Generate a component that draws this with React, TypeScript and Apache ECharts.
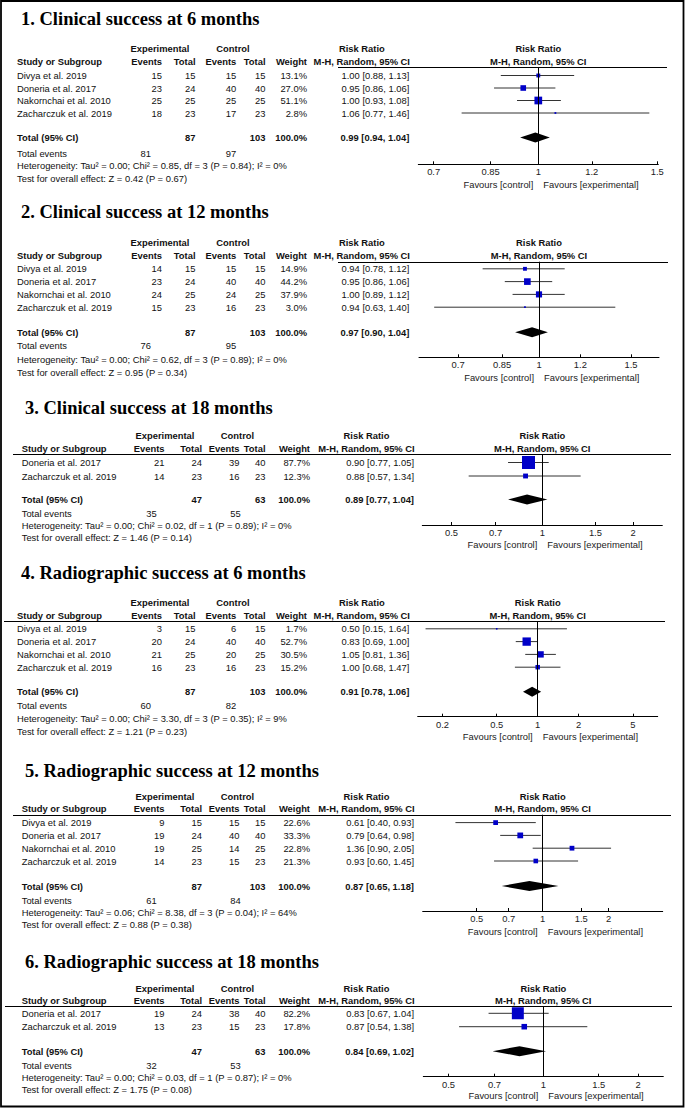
import React, { useEffect, useRef } from "react";
import * as echarts from "echarts";

// ---------------- DATA ----------------
const titles = [
  "1. Clinical success at 6 months",
  "2. Clinical success at 12 months",
  "3. Clinical success at 18 months",
  "4. Radiographic success at 6 months",
  "5. Radiographic success at 12 months",
  "6. Radiographic success at 18 months",
];

// Panel 1
const studies1 = ["Divya et al. 2019", "Doneria et al. 2017", "Nakornchai et al. 2010", "Zacharczuk et al. 2019"];
const expEvents1 = [15, 23, 25, 18];
const expTotal1 = [15, 24, 25, 23];
const ctrlEvents1 = [15, 40, 25, 17];
const ctrlTotal1 = [15, 40, 25, 23];
const weight1 = [13.1, 27.0, 51.1, 2.8];
const rr1 = [1.0, 0.95, 1.0, 1.06];
const lo1 = [0.88, 0.86, 0.93, 0.77];
const hi1 = [1.13, 1.06, 1.08, 1.46];
const pooled1 = [0.99, 0.94, 1.04];
const totals1 = [87, 103];
const totalEvents1 = [81, 97];
const het1 = "Heterogeneity: Tau² = 0.00; Chi² = 0.85, df = 3 (P = 0.84); I² = 0%";
const test1 = "Test for overall effect: Z = 0.42 (P = 0.67)";
const ticks1 = [0.7, 0.85, 1, 1.2, 1.5];
const tickLabels1 = ["0.7", "0.85", "1", "1.2", "1.5"];

// Panel 2
const studies2 = ["Divya et al. 2019", "Doneria et al. 2017", "Nakornchai et al. 2010", "Zacharczuk et al. 2019"];
const expEvents2 = [14, 23, 24, 15];
const expTotal2 = [15, 24, 25, 23];
const ctrlEvents2 = [15, 40, 24, 16];
const ctrlTotal2 = [15, 40, 25, 23];
const weight2 = [14.9, 44.2, 37.9, 3.0];
const rr2 = [0.94, 0.95, 1.0, 0.94];
const lo2 = [0.78, 0.86, 0.89, 0.63];
const hi2 = [1.12, 1.06, 1.12, 1.4];
const pooled2 = [0.97, 0.9, 1.04];
const totals2 = [87, 103];
const totalEvents2 = [76, 95];
const het2 = "Heterogeneity: Tau² = 0.00; Chi² = 0.62, df = 3 (P = 0.89); I² = 0%";
const test2 = "Test for overall effect: Z = 0.95 (P = 0.34)";
const ticks2 = [0.7, 0.85, 1, 1.2, 1.5];
const tickLabels2 = ["0.7", "0.85", "1", "1.2", "1.5"];

// Panel 3
const studies3 = ["Doneria et al. 2017", "Zacharczuk et al. 2019"];
const expEvents3 = [21, 14];
const expTotal3 = [24, 23];
const ctrlEvents3 = [39, 16];
const ctrlTotal3 = [40, 23];
const weight3 = [87.7, 12.3];
const rr3 = [0.9, 0.88];
const lo3 = [0.77, 0.57];
const hi3 = [1.05, 1.34];
const pooled3 = [0.89, 0.77, 1.04];
const totals3 = [47, 63];
const totalEvents3 = [35, 55];
const het3 = "Heterogeneity: Tau² = 0.00; Chi² = 0.02, df = 1 (P = 0.89); I² = 0%";
const test3 = "Test for overall effect: Z = 1.46 (P = 0.14)";
const ticks3 = [0.5, 0.7, 1, 1.5, 2];
const tickLabels3 = ["0.5", "0.7", "1", "1.5", "2"];

// Panel 4
const studies4 = ["Divya et al. 2019", "Doneria et al. 2017", "Nakornchai et al. 2010", "Zacharczuk et al. 2019"];
const expEvents4 = [3, 20, 21, 16];
const expTotal4 = [15, 24, 25, 23];
const ctrlEvents4 = [6, 40, 20, 16];
const ctrlTotal4 = [15, 40, 25, 23];
const weight4 = [1.7, 52.7, 30.5, 15.2];
const rr4 = [0.5, 0.83, 1.05, 1.0];
const lo4 = [0.15, 0.69, 0.81, 0.68];
const hi4 = [1.64, 1.0, 1.36, 1.47];
const pooled4 = [0.91, 0.78, 1.06];
const totals4 = [87, 103];
const totalEvents4 = [60, 82];
const het4 = "Heterogeneity: Tau² = 0.00; Chi² = 3.30, df = 3 (P = 0.35); I² = 9%";
const test4 = "Test for overall effect: Z = 1.21 (P = 0.23)";
const ticks4 = [0.2, 0.5, 1, 2, 5];
const tickLabels4 = ["0.2", "0.5", "1", "2", "5"];

// Panel 5
const studies5 = ["Divya et al. 2019", "Doneria et al. 2017", "Nakornchai et al. 2010", "Zacharczuk et al. 2019"];
const expEvents5 = [9, 19, 19, 14];
const expTotal5 = [15, 24, 25, 23];
const ctrlEvents5 = [15, 40, 14, 15];
const ctrlTotal5 = [15, 40, 25, 23];
const weight5 = [22.6, 33.3, 22.8, 21.3];
const rr5 = [0.61, 0.79, 1.36, 0.93];
const lo5 = [0.4, 0.64, 0.9, 0.6];
const hi5 = [0.93, 0.98, 2.05, 1.45];
const pooled5 = [0.87, 0.65, 1.18];
const totals5 = [87, 103];
const totalEvents5 = [61, 84];
const het5 = "Heterogeneity: Tau² = 0.06; Chi² = 8.38, df = 3 (P = 0.04); I² = 64%";
const test5 = "Test for overall effect: Z = 0.88 (P = 0.38)";
const ticks5 = [0.5, 0.7, 1, 1.5, 2];
const tickLabels5 = ["0.5", "0.7", "1", "1.5", "2"];

// Panel 6
const studies6 = ["Doneria et al. 2017", "Zacharczuk et al. 2019"];
const expEvents6 = [19, 13];
const expTotal6 = [24, 23];
const ctrlEvents6 = [38, 15];
const ctrlTotal6 = [40, 23];
const weight6 = [82.2, 17.8];
const rr6 = [0.83, 0.87];
const lo6 = [0.67, 0.54];
const hi6 = [1.04, 1.38];
const pooled6 = [0.84, 0.69, 1.02];
const totals6 = [47, 63];
const totalEvents6 = [32, 53];
const het6 = "Heterogeneity: Tau² = 0.00; Chi² = 0.03, df = 1 (P = 0.87); I² = 0%";
const test6 = "Test for overall effect: Z = 1.75 (P = 0.08)";
const ticks6 = [0.5, 0.7, 1, 1.5, 2];
const tickLabels6 = ["0.5", "0.7", "1", "1.5", "2"];

const panelData = [
  { studies: studies1, ee: expEvents1, et: expTotal1, ce: ctrlEvents1, ct: ctrlTotal1, w: weight1, rr: rr1, lo: lo1, hi: hi1, pooled: pooled1, totals: totals1, te: totalEvents1, het: het1, test: test1, ticks: ticks1, tl: tickLabels1 },
  { studies: studies2, ee: expEvents2, et: expTotal2, ce: ctrlEvents2, ct: ctrlTotal2, w: weight2, rr: rr2, lo: lo2, hi: hi2, pooled: pooled2, totals: totals2, te: totalEvents2, het: het2, test: test2, ticks: ticks2, tl: tickLabels2 },
  { studies: studies3, ee: expEvents3, et: expTotal3, ce: ctrlEvents3, ct: ctrlTotal3, w: weight3, rr: rr3, lo: lo3, hi: hi3, pooled: pooled3, totals: totals3, te: totalEvents3, het: het3, test: test3, ticks: ticks3, tl: tickLabels3 },
  { studies: studies4, ee: expEvents4, et: expTotal4, ce: ctrlEvents4, ct: ctrlTotal4, w: weight4, rr: rr4, lo: lo4, hi: hi4, pooled: pooled4, totals: totals4, te: totalEvents4, het: het4, test: test4, ticks: ticks4, tl: tickLabels4 },
  { studies: studies5, ee: expEvents5, et: expTotal5, ce: ctrlEvents5, ct: ctrlTotal5, w: weight5, rr: rr5, lo: lo5, hi: hi5, pooled: pooled5, totals: totals5, te: totalEvents5, het: het5, test: test5, ticks: ticks5, tl: tickLabels5 },
  { studies: studies6, ee: expEvents6, et: expTotal6, ce: ctrlEvents6, ct: ctrlTotal6, w: weight6, rr: rr6, lo: lo6, hi: hi6, pooled: pooled6, totals: totals6, te: totalEvents6, het: het6, test: test6, ticks: ticks6, tl: tickLabels6 },
];

// ---------------- LAYOUT ----------------
const colsA = { nameX: 17, evR: 162, exTotR: 195.5, ctEvR: 236.3, ctTotR: 265.5, wR: 307, rrR: 409.3, expCx: 160, ctrlCx: 233, teExpR: 151, teCtrlR: 236.3 };
const colsB = { nameX: 21.7, evR: 164.5, exTotR: 202, ctEvR: 239.5, ctTotR: 265.5, wR: 310, rrR: 414, expCx: 165, ctrlCx: 237.5, teExpR: 156.7, teCtrlR: 240.7 };

const layouts = [
  { c: colsA, titleX: 21, titleY: 18.5, hdr1Y: 48.3, hdr2Y: 61.7, lineY: 67.3, lineX0: 338, lineX1: 667, rowY0: 75.5, rowStep: 12.5, totalY: 137.5, teY: 153, hetY: 165.7, testY: 178, axisY: 164.3, favY: 184, axisLeft: 418.3, half: 0.409, k: 1.08 },
  { c: colsA, titleX: 21, titleY: 211.7, hdr1Y: 242, hdr2Y: 255.5, lineY: 261.7, lineX0: 338, lineX1: 668, rowY0: 268.8, rowStep: 12.8, totalY: 332.3, teY: 345.7, hetY: 359.3, testY: 372, axisY: 357.3, favY: 377.5, axisLeft: 419, half: 0.529, k: 1.0 },
  { c: colsB, titleX: 25, titleY: 408.3, hdr1Y: 435, hdr2Y: 448.3, lineY: 454, lineX0: 13, lineX1: 671, rowY0: 462.5, rowStep: 13.5, totalY: 499.5, teY: 513.3, hetY: 525.7, testY: 537.7, axisY: 525, favY: 544.3, axisLeft: 422.3, half: 0.916, k: 1.39 },
  { c: colsA, titleX: 21, titleY: 573, hdr1Y: 602, hdr2Y: 615, lineY: 621, lineX0: 4, lineX1: 665, rowY0: 628.8, rowStep: 12.8, totalY: 691.7, teY: 705.7, hetY: 718.3, testY: 731, axisY: 716.7, favY: 736.7, axisLeft: 417.7, half: 2.03, k: 1.15 },
  { c: colsB, titleX: 25, titleY: 771, hdr1Y: 796, hdr2Y: 808.6, lineY: 814.7, lineX0: 13, lineX1: 671, rowY0: 822.6, rowStep: 12.8, totalY: 886, teY: 900, hetY: 912.3, testY: 924.3, axisY: 911, favY: 931, axisLeft: 422.7, half: 1.26, k: 1.0 },
  { c: colsB, titleX: 25, titleY: 961.5, hdr1Y: 988, hdr2Y: 1000, lineY: 1006, lineX0: 5, lineX1: 672, rowY0: 1013.3, rowStep: 13.4, totalY: 1051.2, teY: 1065, hetY: 1077.3, testY: 1089.3, axisY: 1076.7, favY: 1095.7, axisLeft: 423.3, half: 0.878, k: 1.32 },
];

const PLOT_W = 240;
const SANS = "'Liberation Sans', Arial, sans-serif";
const SERIF = "'Liberation Serif', 'Times New Roman', serif";
const FS = 9.4;
const TXT = "#111";
const BLUE = "#0000c8";

function txt(x: number, y: number, text: string, align: string, bold = false, size = FS, family = SANS, fill = TXT) {
  return {
    type: "text",
    x,
    y,
    silent: true,
    style: {
      text,
      fill,
      font: `${bold ? "bold " : ""}${size}px ${family}`,
      align,
      verticalAlign: "middle",
      textAlign: align,
      textVerticalAlign: "middle",
    },
  };
}

const fmt2 = (v: number) => v.toFixed(2);
const ciText = (e: number, l: number, h: number) => `${fmt2(e)} [${fmt2(l)}, ${fmt2(h)}]`;

function buildOption() {
  const grid: any[] = [];
  const xAxis: any[] = [];
  const yAxis: any[] = [];
  const series: any[] = [];
  const graphic: any[] = [];

  panelData.forEach((p, i) => {
    const L = layouts[i];
    const c = L.c;
    const x1 = L.axisLeft + PLOT_W / 2;
    const step = L.rowStep;
    const rowY = (j: number) => L.rowY0 + j * step;
    const lnTicks = p.ticks.map((t) => Math.log(t));

    grid.push({ left: L.axisLeft, top: L.lineY, width: PLOT_W, height: L.axisY - L.lineY });
    xAxis.push({
      gridIndex: i,
      type: "value",
      min: -L.half,
      max: L.half,
      splitLine: { show: false },
      axisLine: { show: true, onZero: false, lineStyle: { color: "#000", width: 1 } },
      axisTick: { show: true, inside: true, length: 3, customValues: lnTicks, lineStyle: { color: "#000", width: 1 } },
      axisLabel: {
        show: true,
        customValues: lnTicks,
        margin: 3,
        fontSize: FS,
        fontFamily: SANS,
        color: "#222",
        formatter: (v: number) => {
          let best = 0;
          let bd = Infinity;
          lnTicks.forEach((t, j) => {
            const d = Math.abs(t - v);
            if (d < bd) { bd = d; best = j; }
          });
          return bd < 1e-6 ? p.tl[best] : "";
        },
      },
    });
    yAxis.push({
      gridIndex: i,
      type: "value",
      inverse: true,
      min: -(L.rowY0 - L.lineY) / step,
      max: (L.axisY - L.rowY0) / step,
      show: false,
    });

    const kk = L.k;
    series.push({
      type: "custom",
      xAxisIndex: i,
      yAxisIndex: i,
      silent: true,
      clip: false,
      data: p.studies.map((_, j) => [Math.log(p.lo[j]), Math.log(p.hi[j]), Math.log(p.rr[j]), j, p.w[j]]),
      renderItem: (params: any, api: any) => {
        const a = api.coord([api.value(0), api.value(3)]);
        const b = api.coord([api.value(1), api.value(3)]);
        const m = api.coord([api.value(2), api.value(3)]);
        const s = Math.max(1.6, kk * Math.sqrt(api.value(4)));
        return {
          type: "group",
          children: [
            { type: "line", shape: { x1: a[0], y1: a[1], x2: b[0], y2: b[1] }, style: { stroke: "#333", lineWidth: 1 } },
            { type: "rect", shape: { x: m[0] - s / 2, y: m[1] - s / 2, width: s, height: s }, style: { fill: BLUE } },
          ],
        };
      },
      markLine: {
        silent: true,
        symbol: ["none", "none"],
        label: { show: false },
        lineStyle: { color: "#000", width: 1, type: "solid" },
        data: [{ xAxis: 0 }],
      },
    });

    const totalRow = (L.totalY - L.rowY0) / step;
    series.push({
      type: "custom",
      xAxisIndex: i,
      yAxisIndex: i,
      silent: true,
      clip: false,
      data: [[Math.log(p.pooled[1]), Math.log(p.pooled[2]), Math.log(p.pooled[0]), totalRow]],
      renderItem: (params: any, api: any) => {
        const a = api.coord([api.value(0), api.value(3)]);
        const b = api.coord([api.value(1), api.value(3)]);
        const m = api.coord([api.value(2), api.value(3)]);
        return {
          type: "polygon",
          shape: { points: [[a[0], a[1]], [m[0], m[1] - 5], [b[0], b[1]], [m[0], m[1] + 5]] },
          style: { fill: "#000" },
        };
      },
    });

    // ---- texts ----
    graphic.push(txt(L.titleX, L.titleY, titles[i], "left", true, 18.5, SERIF, "#000"));
    const rrCx = c.rrR - 47.5;
    graphic.push(txt(c.expCx, L.hdr1Y, "Experimental", "center", true));
    graphic.push(txt(c.ctrlCx, L.hdr1Y, "Control", "center", true));
    graphic.push(txt(rrCx, L.hdr1Y, "Risk Ratio", "center", true));
    graphic.push(txt(x1, L.hdr1Y, "Risk Ratio", "center", true));
    graphic.push(txt(c.nameX, L.hdr2Y, "Study or Subgroup", "left", true));
    graphic.push(txt(c.evR, L.hdr2Y, "Events", "right", true));
    graphic.push(txt(c.exTotR, L.hdr2Y, "Total", "right", true));
    graphic.push(txt(c.ctEvR, L.hdr2Y, "Events", "right", true));
    graphic.push(txt(c.ctTotR, L.hdr2Y, "Total", "right", true));
    graphic.push(txt(c.wR, L.hdr2Y, "Weight", "right", true));
    graphic.push(txt(rrCx, L.hdr2Y, "M-H, Random, 95% CI", "center", true));
    graphic.push(txt(x1, L.hdr2Y, "M-H, Random, 95% CI", "center", true));
    graphic.push({
      type: "line",
      silent: true,
      shape: { x1: L.lineX0, y1: Math.round(L.lineY) + 0.5, x2: L.lineX1, y2: Math.round(L.lineY) + 0.5 },
      style: { stroke: "#000", lineWidth: 1 },
    });

    p.studies.forEach((s, j) => {
      const y = rowY(j);
      graphic.push(txt(c.nameX, y, s, "left"));
      graphic.push(txt(c.evR, y, String(p.ee[j]), "right"));
      graphic.push(txt(c.exTotR, y, String(p.et[j]), "right"));
      graphic.push(txt(c.ctEvR, y, String(p.ce[j]), "right"));
      graphic.push(txt(c.ctTotR, y, String(p.ct[j]), "right"));
      graphic.push(txt(c.wR, y, p.w[j].toFixed(1) + "%", "right"));
      graphic.push(txt(c.rrR, y, ciText(p.rr[j], p.lo[j], p.hi[j]), "right"));
    });

    graphic.push(txt(c.nameX, L.totalY, "Total (95% CI)", "left", true));
    graphic.push(txt(c.exTotR, L.totalY, String(p.totals[0]), "right", true));
    graphic.push(txt(c.ctTotR, L.totalY, String(p.totals[1]), "right", true));
    graphic.push(txt(c.wR, L.totalY, "100.0%", "right", true));
    graphic.push(txt(c.rrR, L.totalY, ciText(p.pooled[0], p.pooled[1], p.pooled[2]), "right", true));

    graphic.push(txt(c.nameX, L.teY, "Total events", "left"));
    graphic.push(txt(c.teExpR, L.teY, String(p.te[0]), "right"));
    graphic.push(txt(c.teCtrlR, L.teY, String(p.te[1]), "right"));
    graphic.push(txt(c.nameX, L.hetY, p.het, "left"));
    graphic.push(txt(c.nameX, L.testY, p.test, "left"));

    graphic.push(txt(x1 - 5, L.favY, "Favours [control]", "right", false, FS, SANS, "#222"));
    graphic.push(txt(x1 + 5, L.favY, "Favours [experimental]", "left", false, FS, SANS, "#222"));
  });

  // outer frame
  graphic.push({
    type: "rect",
    silent: true,
    shape: { x: 1, y: 1, width: 682.5, height: 1105.5 },
    style: { fill: "none", stroke: "#000", lineWidth: 1.8 },
  });

  return {
    animation: false,
    backgroundColor: "#fff",
    grid,
    xAxis,
    yAxis,
    series,
    graphic,
  };
}

export default function App() {
  const ref = useRef<HTMLDivElement>(null);
  useEffect(() => {
    if (!ref.current) return;
    const chart = echarts.init(ref.current, undefined, { renderer: "svg" });
    chart.setOption(buildOption() as any);
    return () => chart.dispose();
  }, []);
  return (
    <div
      ref={ref}
      style={{ position: "absolute", left: 0, top: 0, width: 685, height: 1110, background: "#fff" }}
    />
  );
}
